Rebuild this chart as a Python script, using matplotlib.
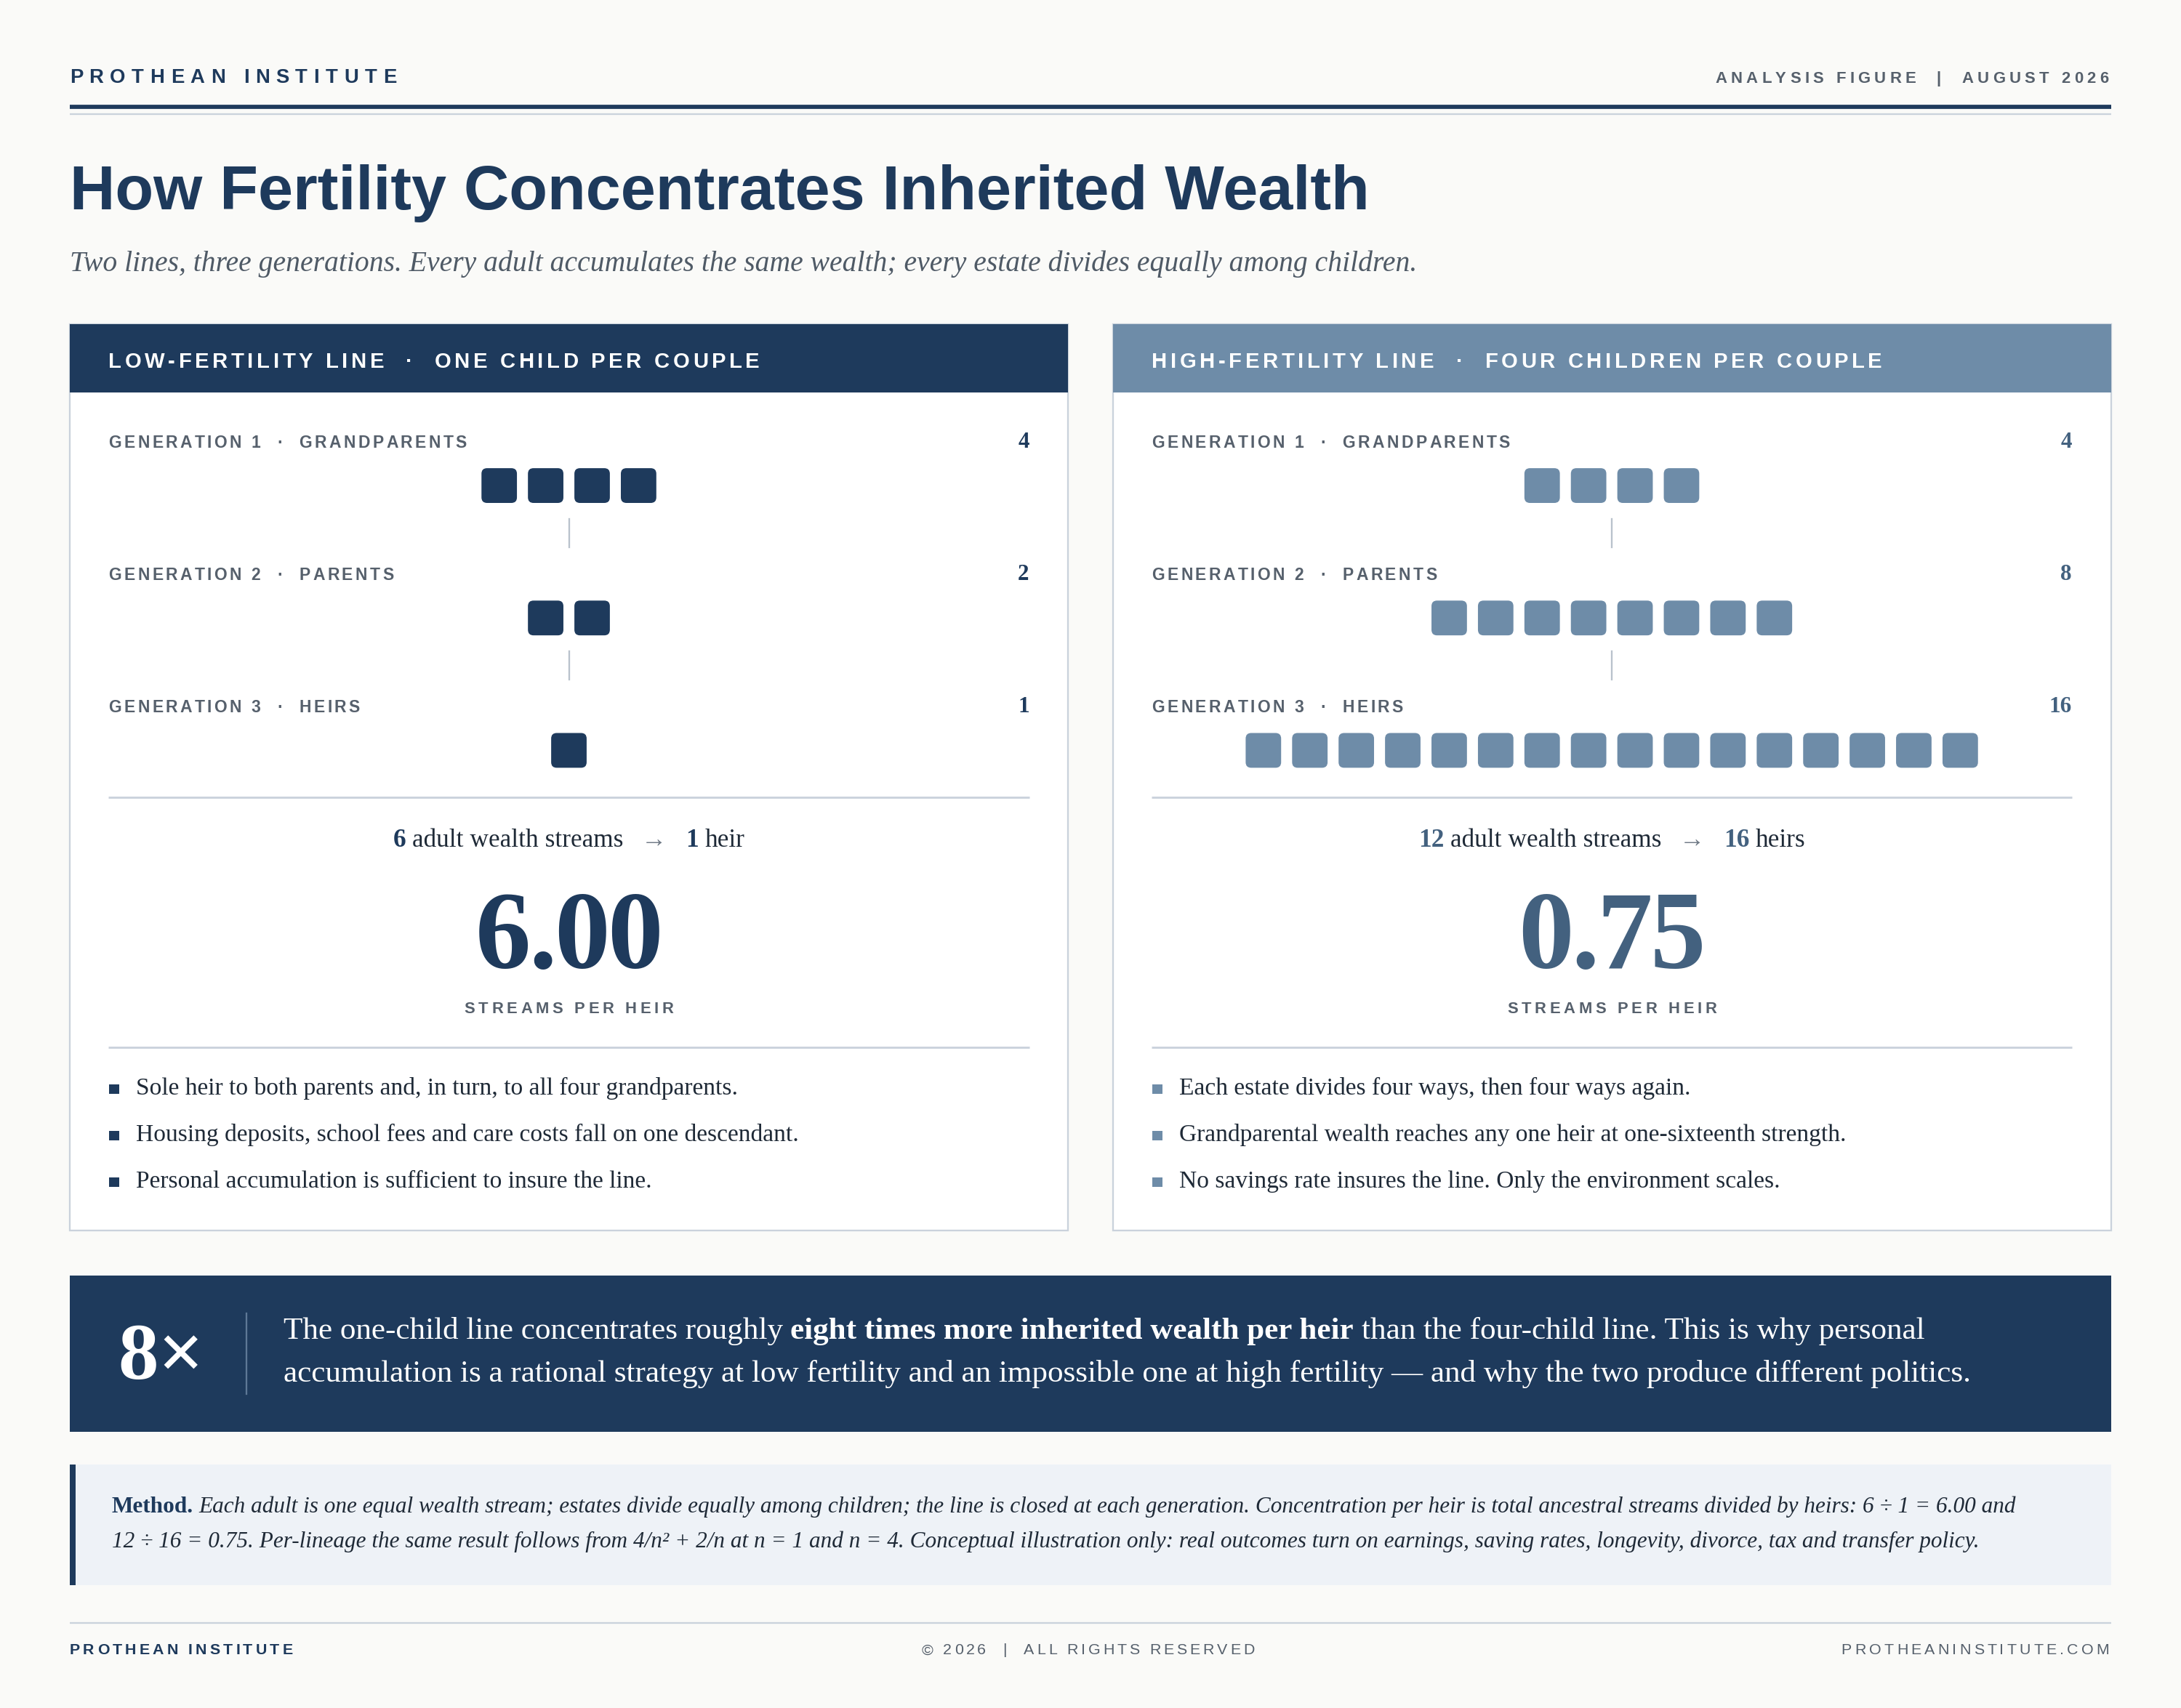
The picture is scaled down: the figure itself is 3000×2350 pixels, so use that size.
"""Fertility vs inherited wealth concentration figure -> out.png"""

import matplotlib
matplotlib.use("Agg")
import matplotlib.pyplot as plt
from matplotlib.patches import Rectangle, FancyBboxPatch
from matplotlib.font_manager import FontProperties, findfont, get_font

try:
    from matplotlib.ft2font import LoadFlags
    NOHINT = LoadFlags.NO_HINTING
except ImportError:
    from matplotlib.ft2font import LOAD_NO_HINTING as NOHINT

# ---- data -------------------------------------------------------------
LINE_NAMES = ["LOW-FERTILITY LINE", "HIGH-FERTILITY LINE"]
LINE_RULES = ["ONE CHILD PER COUPLE", "FOUR CHILDREN PER COUPLE"]
GEN_LABELS = ["GENERATION 1", "GENERATION 2", "GENERATION 3"]
GEN_ROLES = ["GRANDPARENTS", "PARENTS", "HEIRS"]
LOW_COUNTS = [4, 2, 1]
HIGH_COUNTS = [4, 8, 16]
STREAMS = [6, 12]
HEIRS = [1, 16]
LOW_BULLETS = ["Sole heir to both parents and, in turn, to all four grandparents.",
               "Housing deposits, school fees and care costs fall on one descendant.",
               "Personal accumulation is sufficient to insure the line."]
HIGH_BULLETS = ["Each estate divides four ways, then four ways again.",
                "Grandparental wealth reaches any one heir at one-sixteenth strength.",
                "No savings rate insures the line. Only the environment scales."]
PER_HEIR = [s / h for s, h in zip(STREAMS, HEIRS)]

NAVY, STEEL, STEEL_DK = "#1E3A5C", "#6E8CA8", "#43617F"
GRAY, INK, RULE = "#56606C", "#1F2A37", "#CAD2DC"
BG, METHOD_BG = "#FAFAF8", "#EEF2F7"
SANS, SERIF = "Liberation Sans", "Liberation Serif"

# ---- canvas in reference-pixel units ----------------------------------
W, H = 1568, 1228
K = 72 * (3000 / W) / 200          # points per layout px
fig = plt.figure(figsize=(15, 11.75), dpi=200, facecolor=BG)
ax = fig.add_axes([0, 0, 1, 1])
ax.set_xlim(0, W); ax.set_ylim(H, 0); ax.axis("off")


def fp(fam, bold=False, italic=False):
    return FontProperties(family=fam, weight="bold" if bold else "normal",
                          style="italic" if italic else "normal")


def adv(s, prop, px):
    f = get_font(findfont(prop))
    f.set_size(px * K, 72)
    return sum(f.load_char(ord(c), flags=NOHINT).linearHoriAdvance / 65536 for c in s) / K


def fit(parts, width):
    return 10 * width / sum(adv(t, p, 10) for t, p, *_ in parts)


def fit_avg(pairs):
    return sum(fit(p, w) for p, w in pairs) / len(pairs)


def track_for(s, prop, px, width):
    return (width - adv(s, prop, px)) / (len(s) - 1)


def runs(x, y, parts, px, ha="left", track=0.0):
    widths = [adv(t, p, px) + track * len(t) for t, p, c in parts]
    total = sum(widths) - track
    x = x - total / 2 if ha == "center" else x - total if ha == "right" else x
    for (t, p, c), w in zip(parts, widths):
        q = p.copy(); q.set_size(px * K)
        if track:
            xx = x
            for ch in t:
                if ch != " ":
                    ax.text(xx, y, ch, fontproperties=q, color=c, va="baseline", ha="left")
                xx += adv(ch, p, px) + track
        else:
            lead = len(t) - len(t.lstrip())
            ax.text(x + adv(t[:lead], p, px), y, t.strip(), fontproperties=q,
                    color=c, va="baseline", ha="left")
        x += w


def hline(y, x0, x1, color, lw):
    ax.plot([x0, x1], [y, y], color=color, lw=lw * K, solid_capstyle="butt")


# ---- masthead ---------------------------------------------------------
sb = fp(SANS, bold=True)
s = "PROTHEAN INSTITUTE"
runs(50, 59.6, [(s, sb, NAVY)], 14.4, track=track_for(s, sb, 14.4, 235))
s = "ANALYSIS FIGURE  |  AUGUST 2026"
runs(1516, 59.7, [(s, sb, GRAY)], 11.6, ha="right", track=track_for(s, sb, 11.6, 283))
hline(76.7, 50, 1518, NAVY, 3)
hline(81.9, 50, 1518, RULE, 1.2)

title = [("How Fertility Concentrates Inherited Wealth", sb, NAVY)]
runs(50, 150.3, title, fit(title, 934))
sub = [("Two lines, three generations. Every adult accumulates the same wealth; "
        "every estate divides equally among children.", fp(SERIF, italic=True), "#4F5A66")]
runs(50, 194.8, sub, fit(sub, 970))

# ---- panels -----------------------------------------------------------
head_px = 15.3
head_track = track_for(f"{LINE_NAMES[0]}  ·  {LINE_RULES[0]}", sb, head_px, 468)
lab_px = 12
lab_track = track_for(f"{GEN_LABELS[0]}  ·  {GEN_ROLES[0]}", sb, lab_px, 257.6)
bullet_w = [436, 470, 373, 361, 486, 429]
bullet_px = fit_avg([([(b, fp(SERIF))], w)
                     for b, w in zip(LOW_BULLETS + HIGH_BULLETS, bullet_w)])
stream_parts0 = [(str(STREAMS[0]), fp(SERIF, True)), (" adult wealth streams", fp(SERIF)),
                 ("   →   ", fp(SERIF)), (str(HEIRS[0]), fp(SERIF, True)), (" heir", fp(SERIF))]
stream_px = fit(stream_parts0, 253)
spr = "STREAMS PER HEIR"
spr_track = track_for(spr, sb, 11.5, 150.5)

GEN_BASE = [322, 417, 512]
SQ_TOP = [336.6, 431.8, 527]
SQ_W, SQ_H, SQ_PITCH = 25.5, 25, 33.4


def panel(x0, x1, counts, fill, num_col, head_col, idx, bullets):
    cx, pad = (x0 + x1) / 2, 28
    ax.add_patch(Rectangle((x0, 233), x1 - x0, 884.5 - 233, facecolor="white",
                           edgecolor=RULE, lw=1.2 * K))
    ax.add_patch(Rectangle((x0, 233), x1 - x0, 49, facecolor=head_col, edgecolor="none"))
    runs(x0 + pad, 264.5, [(f"{LINE_NAMES[idx]}  ·  {LINE_RULES[idx]}", sb, "white")],
         head_px, track=head_track)
    for g, n in enumerate(counts):
        runs(x0 + pad, GEN_BASE[g], [(f"{GEN_LABELS[g]}  ·  {GEN_ROLES[g]}", sb, GRAY)],
             lab_px, track=lab_track)
        runs(x1 - pad, GEN_BASE[g], [(str(n), fp(SERIF, True), num_col)], 16.3, ha="right")
        left = cx - ((n - 1) * SQ_PITCH + SQ_W) / 2
        for k in range(n):
            ax.add_patch(FancyBboxPatch((left + k * SQ_PITCH, SQ_TOP[g]), SQ_W, SQ_H,
                                        boxstyle="round,pad=0,rounding_size=4",
                                        facecolor=fill, edgecolor="none"))
        if g < len(counts) - 1:
            yb = SQ_TOP[g] + SQ_H
            ax.plot([cx, cx], [yb + 11.5, yb + 32], color="#B9C2CC", lw=1.2 * K)
    hline(573.4, x0 + pad, x1 - pad, RULE, 1.5)
    parts = [(str(STREAMS[idx]), fp(SERIF, True), num_col),
             (" adult wealth streams", fp(SERIF), INK),
             ("   →   ", fp(SERIF), "#707A86"),
             (str(HEIRS[idx]), fp(SERIF, True), num_col),
             (" heir" if HEIRS[idx] == 1 else " heirs", fp(SERIF), INK)]
    runs(cx, 609, parts, stream_px, ha="center")
    runs(cx, 695.8, [(f"{PER_HEIR[idx]:.2f}", fp(SERIF, True), num_col)], 80, ha="center",
         track=-1.8)
    runs(cx, 728.7, [(spr, sb, GRAY)], 11.5, ha="center", track=spr_track)
    hline(753, x0 + pad, x1 - pad, RULE, 1.5)
    for i, b in enumerate(bullets):
        yc = 783 + 33.5 * i
        ax.add_patch(Rectangle((x0 + pad + 0.5, yc - 3.5), 7, 7, facecolor=fill, edgecolor="none"))
        runs(x0 + 48, yc + 4, [(b, fp(SERIF), INK)], bullet_px)


panel(50, 768, LOW_COUNTS, NAVY, NAVY, NAVY, 0, LOW_BULLETS)
panel(800, 1517.6, HIGH_COUNTS, STEEL, STEEL_DK, STEEL, 1, HIGH_BULLETS)

# ---- callout ----------------------------------------------------------
ax.add_patch(Rectangle((50, 917), 1467.6, 112.5, facecolor=NAVY, edgecolor="none"))
runs(85, 991.5, [(f"{round(PER_HEIR[0] / PER_HEIR[1])}×", fp(SERIF, True), "white")], 58)
ax.plot([177, 177], [944, 1002], color="#5E7896", lw=1.2 * K)
call1 = [("The one-child line concentrates roughly ", fp(SERIF), "white"),
         ("eight times more inherited wealth per heir", fp(SERIF, True), "white"),
         (" than the four-child line. This is why personal", fp(SERIF), "white")]
call2 = [("accumulation is a rational strategy at low fertility and an impossible one at "
          "high fertility — and why the two produce different politics.", fp(SERIF), "white")]
call_px = fit_avg([(call1, 1191), (call2, 1202)])
runs(204, 962.4, call1, call_px)
runs(204, 993.5, call2, call_px)

# ---- method note ------------------------------------------------------
ax.add_patch(Rectangle((50, 1052.7), 1467.6, 86.8, facecolor=METHOD_BG, edgecolor="none"))
ax.add_patch(Rectangle((50, 1052.7), 4.6, 86.8, facecolor=NAVY, edgecolor="none"))
it = fp(SERIF, italic=True)
m1 = [("Method.", fp(SERIF, True), NAVY),
      (" Each adult is one equal wealth stream; estates divide equally among children; the line "
       "is closed at each generation. Concentration per heir is total ancestral streams divided "
       f"by heirs: {STREAMS[0]} ÷ {HEIRS[0]} = {PER_HEIR[0]:.2f} and", it, INK)]
m2 = [(f"{STREAMS[1]} ÷ {HEIRS[1]} = {PER_HEIR[1]:.2f}. Per-lineage the same result follows from "
       "4/n² + 2/n at n = 1 and n = 4. Conceptual illustration only: real outcomes turn on "
       "earnings, saving rates, longevity, divorce, tax and transfer policy.", it, INK)]
m_px = fit_avg([(m1, 1378), (m2, 1338)])
runs(80.3, 1087.5, m1, m_px)
runs(80.3, 1112.5, m2, m_px)

# ---- footer -----------------------------------------------------------
hline(1167, 50, 1517.6, RULE, 1.2)
sr = fp(SANS)
s = "PROTHEAN INSTITUTE"
runs(50, 1189.5, [(s, sb, NAVY)], 11.2, track=track_for(s, sb, 11.2, 160.4))
s = "© 2026  |  ALL RIGHTS RESERVED"
runs(782.3, 1189.5, [(s, sr, GRAY)], 11.2, ha="center", track=track_for(s, sr, 11.2, 239.4))
s = "PROTHEANINSTITUTE.COM"
runs(1516.5, 1189.5, [(s, sr, GRAY)], 11.2, ha="right", track=track_for(s, sr, 11.2, 192.8))

fig.savefig("out.png", dpi=200, facecolor=BG)
